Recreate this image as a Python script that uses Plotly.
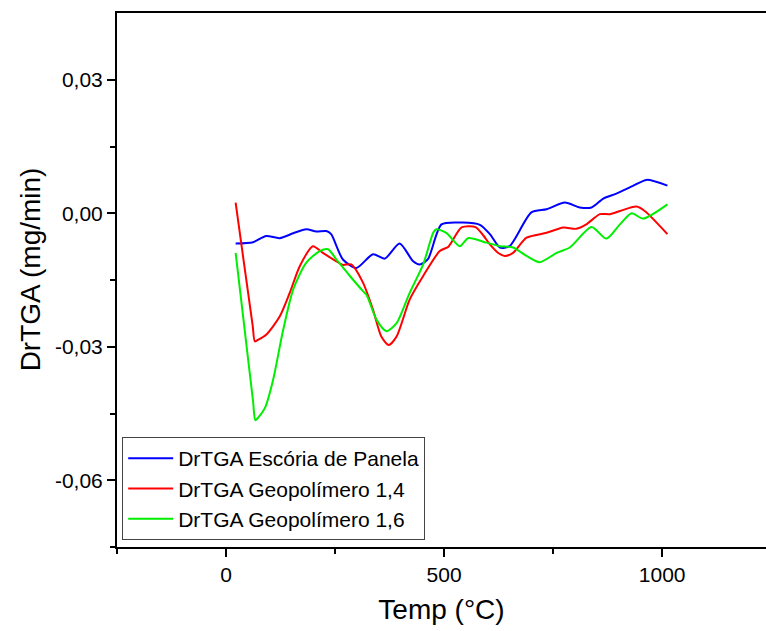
import plotly.graph_objects as go

# Temperature (°C) and derivative mass-loss rate (mg/min) for each sample
temp_escoria = [22, 62, 92, 123, 154, 184, 207, 230, 241, 268, 299, 337, 364, 398,
                429, 444, 463, 494, 543, 582, 605, 628, 650, 700, 735, 777, 811,
                838, 865, 895, 934, 964, 1012]
drtga_escoria = [-0.0068, -0.0065, -0.0051, -0.0056, -0.0045, -0.0036, -0.0041,
                 -0.0040, -0.0047, -0.0104, -0.0123, -0.0092, -0.0102, -0.0068,
                 -0.0108, -0.0115, -0.0103, -0.0025, -0.0021, -0.0026, -0.0047,
                 -0.0077, -0.0074, 0.0002, 0.0009, 0.0024, 0.0013, 0.0013, 0.0033,
                 0.0044, 0.0062, 0.0075, 0.0062]

temp_geo14 = [22, 40, 61, 66, 72, 92, 123, 146, 169, 199, 222, 253, 268, 287, 314,
              337, 356, 373, 391, 421, 452, 490, 510, 540, 572, 590, 605, 625,
              639, 658, 689, 735, 773, 803, 826, 857, 880, 903, 941, 960, 1012]
drtga_geo14 = [0.0024, -0.0104, -0.0252, -0.0288, -0.0285, -0.0273, -0.0232,
               -0.0179, -0.0119, -0.0074, -0.0089, -0.0108, -0.0116, -0.0115,
               -0.0156, -0.0217, -0.0277, -0.0296, -0.0277, -0.0194, -0.0141,
               -0.0085, -0.0075, -0.0032, -0.0031, -0.0050, -0.0070, -0.0090,
               -0.0096, -0.0089, -0.0055, -0.0044, -0.0032, -0.0035, -0.0025,
               -0.0002, -0.0002, 0.0005, 0.0015, 0.0005, -0.0047]

temp_geo16 = [22, 42, 62, 67, 73, 89, 108, 131, 154, 184, 215, 234, 253, 284, 314,
              322, 345, 368, 391, 421, 452, 475, 482, 505, 536, 555, 597, 628,
              658, 689, 719, 758, 788, 838, 872, 903, 930, 956, 1012]
drtga_geo16 = [-0.0089, -0.0256, -0.0423, -0.0465, -0.0460, -0.0438, -0.0374,
               -0.0262, -0.0171, -0.0111, -0.0085, -0.0081, -0.0104, -0.0141,
               -0.0175, -0.0183, -0.0239, -0.0265, -0.0247, -0.0179, -0.0115,
               -0.0044, -0.0036, -0.0044, -0.0074, -0.0056, -0.0066, -0.0074,
               -0.0077, -0.0096, -0.0110, -0.0089, -0.0077, -0.0031, -0.0057,
               -0.0025, 0.0000, -0.0012, 0.0020]

series_names = ["DrTGA Escória de Panela", "DrTGA Geopolímero 1,4",
                "DrTGA Geopolímero 1,6"]
series_colors = ["#0000FF", "#FF0000", "#00EE00"]

y_tickvals = [0.03, 0.0, -0.03, -0.06]
y_ticktext = ["0,03", "0,00", "-0,03", "-0,06"]
x_tickvals = [0, 500, 1000]
x_ticktext = ["0", "500", "1000"]

font_family = "Liberation Sans, Arial, sans-serif"

fig = go.Figure()
for xs, ys, name, color in zip(
        [temp_escoria, temp_geo14, temp_geo16],
        [drtga_escoria, drtga_geo14, drtga_geo16],
        series_names, series_colors):
    fig.add_trace(go.Scatter(
        x=xs, y=ys, name=name, mode="lines",
        line=dict(color=color, width=2, shape="spline", smoothing=0.7),
    ))

fig.update_layout(
    width=766, height=631,
    margin=dict(l=117, r=0, t=13, b=84),
    paper_bgcolor="white", plot_bgcolor="white",
    font=dict(family=font_family, color="black", size=21),
    showlegend=True,
    legend=dict(
        x=0.008, y=0.013, xanchor="left", yanchor="bottom",
        bgcolor="white", bordercolor="#444", borderwidth=1,
        font=dict(size=21, family=font_family),
        tracegroupgap=0, itemwidth=45,
    ),
    annotations=[dict(
        text="DrTGA (mg/min)", textangle=-90,
        xref="paper", yref="paper", x=-0.134, y=0.52,
        xanchor="center", yanchor="middle", showarrow=False,
        font=dict(size=28, family=font_family, color="black"),
    )],
)

fig.update_xaxes(
    range=[-250, 1238], showgrid=False, zeroline=False,
    showline=True, linecolor="black", linewidth=2, mirror=True,
    ticks="outside", ticklen=8, tickwidth=2, tickcolor="black",
    tickmode="array", tickvals=x_tickvals, ticktext=x_ticktext,
    tickfont=dict(size=21),
    minor=dict(tickmode="array", tickvals=[-250, 250, 750],
               ticks="outside", ticklen=5, tickwidth=2, tickcolor="black"),
    title=dict(text="Temp (°C)", font=dict(size=28), standoff=14),
)

fig.update_yaxes(
    range=[-0.075, 0.045], showgrid=False, zeroline=False,
    showline=True, linecolor="black", linewidth=2, mirror=False,
    ticks="outside", ticklen=8, tickwidth=2, tickcolor="black",
    tickmode="array", tickvals=y_tickvals, ticktext=y_ticktext,
    tickfont=dict(size=21),
    minor=dict(tickmode="array", tickvals=[-0.075, -0.045, -0.015, 0.015],
               ticks="outside", ticklen=5, tickwidth=2, tickcolor="black"),
)

fig.write_html("out.html")
